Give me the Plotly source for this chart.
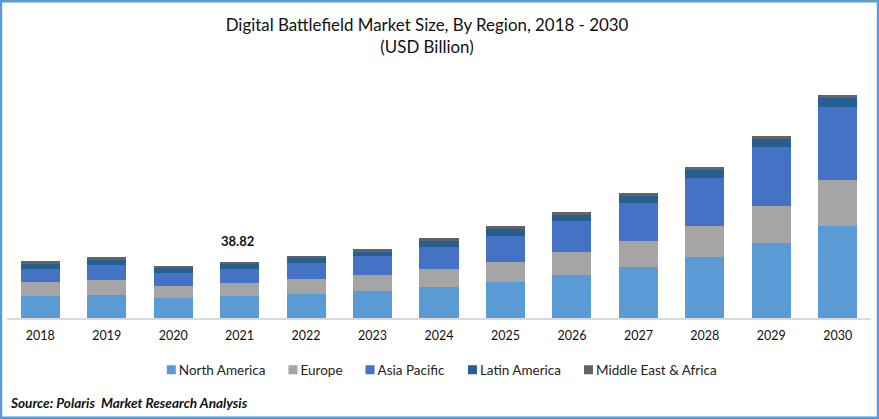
import plotly.graph_objects as go

years = ["2018", "2019", "2020", "2021", "2022", "2023", "2024", "2025", "2026", "2027", "2028", "2029", "2030"]
north_america = [15.2, 15.9, 13.9, 15.2, 16.6, 18.7, 21.5, 24.9, 29.8, 35.3, 42.3, 52.0, 63.8]
europe = [9.7, 10.4, 8.3, 9.0, 10.4, 11.1, 12.5, 13.9, 15.9, 18.0, 21.5, 25.6, 31.2]
asia_pacific = [9.0, 10.4, 9.0, 9.7, 11.1, 13.2, 15.2, 18.0, 21.5, 26.3, 32.6, 40.2, 50.6]
latin_america = [3.5, 3.5, 3.5, 3.5, 3.5, 2.8, 4.2, 4.9, 4.2, 4.9, 5.5, 5.5, 6.2]
middle_east_africa = [2.1, 2.1, 1.4, 1.4, 1.4, 2.1, 2.1, 2.1, 2.1, 2.1, 2.1, 2.1, 2.1]
labelled_year = "2021"
labelled_total = 38.82

FONT = "Lato"
W, H = 879, 419
L, R, T, B = 7.3, 8.3, 40, 101


def paper_x(px):
    return (px - L) / (W - L - R)


def paper_y(px):
    return (H - B - px) / (H - T - B)


series = [
    ("North America", north_america, "#5B9BD5"),
    ("Europe", europe, "#A5A5A5"),
    ("Asia Pacific", asia_pacific, "#4472C4"),
    ("Latin America", latin_america, "#255E91"),
    ("Middle East & Africa", middle_east_africa, "#636363"),
]

fig = go.Figure()
for name, values, color in series:
    fig.add_trace(go.Bar(x=years, y=values, name=name, marker=dict(color=color, line_width=0)))

fig.update_layout(
    width=W,
    height=H,
    margin=dict(l=L, r=R, t=T, b=B, pad=0),
    paper_bgcolor="white",
    plot_bgcolor="white",
    barmode="stack",
    bargap=0.413,
    font=dict(family=FONT, color="#111111", size=14),
    title=dict(
        text="Digital Battlefield Market Size, By Region, 2018 - 2030<br>(USD Billion)",
        x=427 / W,
        xanchor="center",
        y=0.925,
        yanchor="middle",
        font=dict(family=FONT, size=16.9, color="#111111"),
    ),
    legend=dict(
        orientation="h",
        x=paper_x(149),
        xanchor="left",
        y=paper_y(370),
        yanchor="middle",
        font=dict(family=FONT, size=13.5, color="#222222"),
        itemclick=False,
        indentation=-10,
        traceorder="normal",
    ),
    xaxis=dict(
        type="category",
        range=[-0.5, 12.5],
        showgrid=False,
        showline=True,
        linecolor="#D9D9D9",
        linewidth=1.5,
        ticks="",
        tickfont=dict(family=FONT, size=12.5, color="#111111"),
        ticklabelstandoff=5,
    ),
    yaxis=dict(range=[0, 192], visible=False, showgrid=False),
    shapes=[
        dict(
            type="rect",
            xref="paper",
            yref="paper",
            x0=paper_x(1.25),
            x1=paper_x(W - 1.25),
            y0=paper_y(H - 1.25),
            y1=paper_y(1.25),
            line=dict(color="#5B9BD5", width=2.5),
        )
    ],
    annotations=[
        dict(
            x=years.index(labelled_year) - 0.03,
            y=labelled_total + 14.4,
            xref="x",
            yref="y",
            text=f"<b>{labelled_total}</b>",
            showarrow=False,
            font=dict(family=FONT, size=13, color="#111111"),
        ),
        dict(
            x=paper_x(8),
            y=paper_y(403),
            xref="paper",
            yref="paper",
            xanchor="left",
            yanchor="middle",
            text="<b><i>Source: Polaris  Market Research Analysis</i></b>",
            showarrow=False,
            font=dict(family=FONT, size=13.6, color="#111111"),
        ),
    ],
)

# legend swatches sit right next to the text in the original
swatch_fix = """
document.body.style.margin = '0';
document.querySelectorAll('.legend path.legendbar, .legend .legendpoints path').forEach(function (p) {
    p.setAttribute('transform', 'translate(32.5,0) scale(0.75)');
});
"""
fig.write_html("out.html", config={"displayModeBar": False}, post_script=swatch_fix)
